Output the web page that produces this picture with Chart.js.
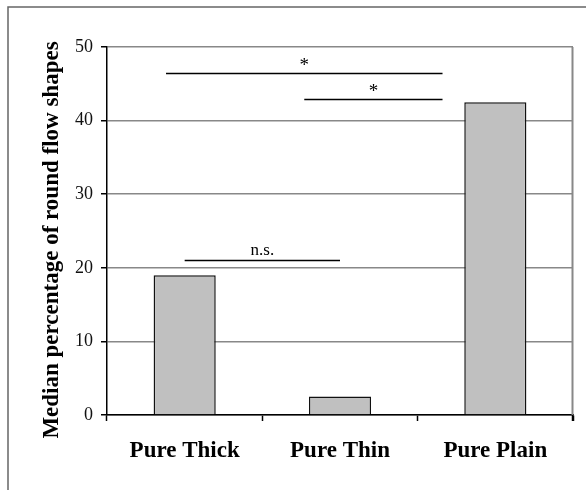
<!DOCTYPE html>
<html lang="en">
<head>
    <meta charset="UTF-8">
    <title>Round flow shapes</title>
    <script src="https://cdn.jsdelivr.net/npm/chart.js"></script>
    <style>
      body { margin: 0; background: #fff; }
      #wrap { width: 586px; height: 490px; }
    </style>
</head>
<body>
    <div id="wrap"><canvas id="myChart" width="586" height="490"></canvas></div>

    <script>
    // categories and values
    const categories = ['Pure Thick', 'Pure Thin', 'Pure Plain'];
    const medianValues = [19, 2.5, 42.5];
    const yTicks = [0, 10, 20, 30, 40, 50];
    const yTitle = 'Median percentage of round flow shapes';

    // significance brackets (category index units, y in data units)
    const bracketFrom = [0, -0.12, 0.77];
    const bracketTo = [1, 1.66, 1.66];
    const bracketY = [21, 46.4, 42.9];
    const bracketLabel = ['n.s.', '*', '*'];

    const serif = "'Liberation Serif', 'Times New Roman', serif";

    const extras = {
        id: 'extras',
        beforeDraw(chart) {
            const c = chart.ctx;
            c.save();
            c.strokeStyle = '#666';
            c.lineWidth = 1.5;
            c.beginPath();
            c.moveTo(8, 490);
            c.lineTo(8, 7);
            c.lineTo(586, 7);
            c.stroke();
            c.restore();
        },
        afterDraw(chart) {
            const c = chart.ctx;
            const xs = chart.scales.x, ys = chart.scales.y;
            const right = Math.round(xs.right) - 0.5;
            const top = ys.getPixelForValue(50);
            const bottom = ys.getPixelForValue(0);
            c.save();
            // right border of plot area
            c.strokeStyle = '#888';
            c.lineWidth = 2;
            c.beginPath();
            c.moveTo(right, top);
            c.lineTo(right, bottom);
            c.stroke();
            // right-most x tick
            c.strokeStyle = '#000';
            c.lineWidth = 1.5;
            c.beginPath();
            c.moveTo(right, bottom);
            c.lineTo(right, bottom + 6);
            c.stroke();
            // y title
            c.save();
            c.translate(52, 240);
            c.rotate(-Math.PI / 2);
            c.font = 'bold 23px ' + serif;
            c.textAlign = 'center';
            c.textBaseline = 'middle';
            c.fillStyle = '#000';
            c.fillText(yTitle, 0, 0);
            c.restore();
            // brackets
            c.fillStyle = '#000';
            c.textAlign = 'center';
            c.textBaseline = 'alphabetic';
            for (let i = 0; i < bracketY.length; i++) {
                const x1 = xs.getPixelForValue(bracketFrom[i]);
                const x2 = xs.getPixelForValue(bracketTo[i]);
                const y = Math.round(ys.getPixelForValue(bracketY[i])) + 0.5;
                c.beginPath();
                c.moveTo(x1, y);
                c.lineTo(x2, y);
                c.stroke();
                c.font = (bracketLabel[i] === '*' ? '19px ' : '17px ') + serif;
                c.fillText(bracketLabel[i], (x1 + x2) / 2, bracketLabel[i] === '*' ? y - 3 : y - 6);
            }
            c.restore();
        }
    };

    new Chart(document.getElementById('myChart'), {
        type: 'bar',
        data: {
            labels: categories,
            datasets: [{
                data: medianValues,
                backgroundColor: '#c0c0c0',
                borderColor: '#111',
                borderWidth: 1.5,
                barPercentage: 0.4,
                categoryPercentage: 1
            }]
        },
        options: {
            responsive: false,
            animation: false,
            layout: { padding: { left: 40, top: 47, right: 13, bottom: 0 } },
            plugins: { legend: { display: false }, tooltip: { enabled: false } },
            scales: {
                x: {
                    grid: { offset: true, drawOnChartArea: false, tickLength: 6, tickColor: '#000', tickWidth: 1.5 },
                    border: { color: '#000', width: 1.5 },
                    ticks: { color: '#000', padding: 16, font: { family: serif, size: 23, weight: 'bold' } },
                    afterFit(s) { s.height = 75; }
                },
                y: {
                    min: 0,
                    max: 50,
                    afterBuildTicks(s) { s.ticks = yTicks.map(v => ({ value: v })); },
                    grid: { color: '#888', lineWidth: 1.5, tickLength: 6, tickColor: '#000', tickWidth: 1.5 },
                    border: { color: '#000', width: 1.5 },
                    ticks: { color: '#111', padding: 8, font: { family: serif, size: 18 } },
                    afterFit(s) { s.width = 67; }
                }
            }
        },
        plugins: [extras]
    });
    </script>
</body>
</html>
